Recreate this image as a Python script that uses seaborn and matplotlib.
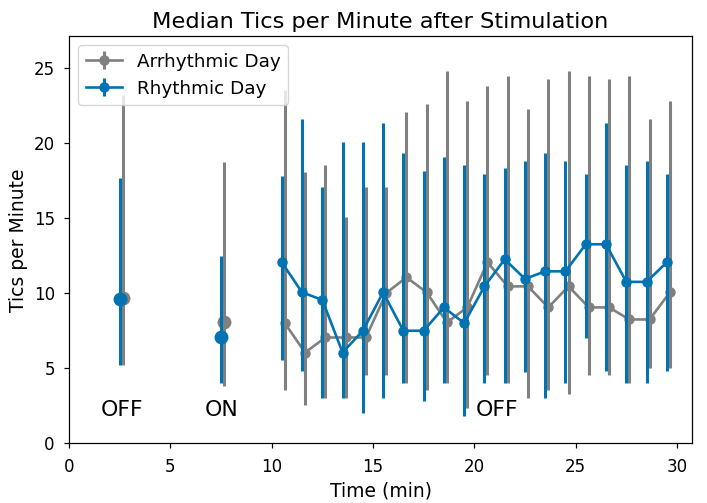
import numpy as np
import pandas as pd
import matplotlib
matplotlib.use("Agg")
import matplotlib.pyplot as plt
import seaborn as sns

# ---------------- data ----------------
phase_times = [2.5, 7.5]                       # OFF / ON baseline blocks
minutes = [10.5 + i for i in range(20)]        # post-stimulation minutes
gray_offset = 0.15                             # arrhythmic points drawn slightly right

# Arrhythmic day (gray)
arr_phase_med = [9.65, 8.05]
arr_phase_hi = [23.15, 18.75]
arr_phase_lo = [5.25, 3.8]
arr_med = [8.0, 6.05, 7.05, 7.05, 7.05, 10.0, 11.05, 10.05, 8.05, 9.05,
           12.05, 10.45, 10.45, 9.05, 10.45, 9.05, 9.05, 8.25, 8.25, 10.05]
arr_hi = [23.5, 18.05, 18.55, 15.05, 17.05, 17.05, 22.05, 22.55, 24.75, 22.75,
          23.75, 24.45, 22.25, 24.25, 24.75, 24.45, 24.25, 24.45, 21.55, 22.75]
arr_lo = [3.55, 2.55, 3.05, 3.05, 4.55, 4.55, 4.05, 3.55, 4.05, 2.35,
          4.55, 4.05, 3.05, 3.55, 3.3, 4.55, 4.55, 4.05, 5.05, 5.05]

# Rhythmic day (blue)
rhy_phase_med = [9.6, 7.1]
rhy_phase_hi = [17.65, 12.45]
rhy_phase_lo = [5.25, 4.05]
rhy_med = [12.05, 10.05, 9.55, 6.05, 7.5, 10.05, 7.5, 7.5, 9.05, 8.0,
           10.45, 12.25, 10.95, 11.45, 11.45, 13.25, 13.25, 10.75, 10.75, 12.05]
rhy_hi = [17.8, 21.55, 17.05, 20.05, 20.05, 21.3, 19.3, 18.15, 19.05, 18.55,
          17.9, 18.3, 18.8, 19.3, 18.8, 17.9, 21.3, 18.55, 18.8, 17.9]
rhy_lo = [5.55, 4.8, 3.05, 3.05, 2.05, 3.05, 4.05, 2.8, 4.05, 1.85,
          4.05, 4.05, 4.75, 3.05, 4.05, 7.0, 4.8, 4.05, 4.05, 4.8]

phase_labels = ["OFF", "ON", "OFF"]
phase_label_x = [2.6, 7.55, 21.1]
phase_label_y = [2.2, 2.2, 2.2]

series_names = ["Arrhythmic Day", "Rhythmic Day"]
colors = {"Arrhythmic Day": "#808080", "Rhythmic Day": sns.color_palette("colorblind")[0]}

# ---------------- figure ----------------
plt.rcParams["font.family"] = ["DejaVu Sans"]
fig = plt.figure(figsize=(7.07, 5.03), dpi=100)
ax = fig.add_axes([0.0976, 0.1183, 0.8814, 0.8101])

datasets = {
    "Arrhythmic Day": (arr_phase_med, arr_phase_hi, arr_phase_lo, arr_med, arr_hi, arr_lo, gray_offset),
    "Rhythmic Day": (rhy_phase_med, rhy_phase_hi, rhy_phase_lo, rhy_med, rhy_hi, rhy_lo, 0.0),
}

for k, name in enumerate(series_names):
    pm, ph, pl, m, h, l, off = datasets[name]
    c = colors[name]
    z = 2 + 2 * k
    px = np.array(phase_times) + off
    pm_a, ph_a, pl_a = np.array(pm), np.array(ph), np.array(pl)
    ax.errorbar(px, pm_a, yerr=[pm_a - pl_a, ph_a - pm_a], fmt="none",
                ecolor=c, elinewidth=2.2, zorder=z)
    dfp = pd.DataFrame({"t": px, "v": pm_a})
    sns.scatterplot(data=dfp, x="t", y="v", color=c, s=100, linewidth=0,
                    ax=ax, zorder=z + 1, legend=False)
    mx = np.array(minutes) + off
    m_a, h_a, l_a = np.array(m), np.array(h), np.array(l)
    ax.errorbar(mx, m_a, yerr=[m_a - l_a, h_a - m_a], fmt="o-", color=c,
                ecolor=c, elinewidth=2.2, lw=1.9, ms=6.5, label=name, zorder=z + 1)

for txt, tx, ty in zip(phase_labels, phase_label_x, phase_label_y):
    ax.text(tx, ty, txt, ha="center", va="center", fontsize=15.8, color="black")

ax.set_xlim(0, 30.75)
ax.set_ylim(0, 27.1)
ax.set_xticks([0, 5, 10, 15, 20, 25, 30])
ax.set_yticks([0, 5, 10, 15, 20, 25])
ax.tick_params(labelsize=12, length=3.9, width=0.88, pad=6.3)
for sp in ax.spines.values():
    sp.set_linewidth(0.88)
ax.set_xlabel("Time (min)", fontsize=13.5)
ax.set_ylabel("Tics per Minute", fontsize=13.5)
ax.set_title("Median Tics per Minute after Stimulation", fontsize=16.2)
ax.legend(loc="upper left", fontsize=13.2)

fig.savefig("out.png", dpi=100)
